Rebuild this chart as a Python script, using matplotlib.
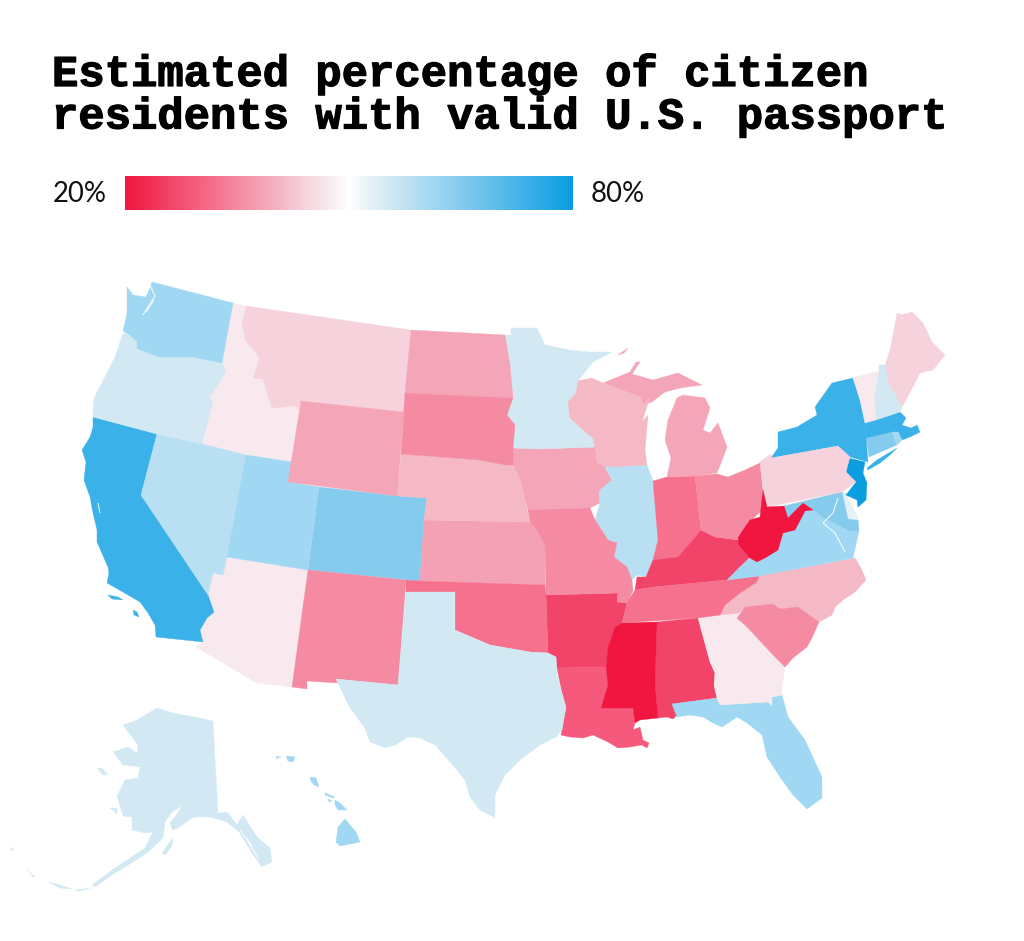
import numpy as np
import matplotlib
matplotlib.use("Agg")
import matplotlib.pyplot as plt
import matplotlib.patheffects as pe
from matplotlib.collections import PolyCollection, LineCollection
from matplotlib.colors import LinearSegmentedColormap, Normalize

# ---- chart content -------------------------------------------------------
TITLE_LINES = ["Estimated percentage of citizen", "residents with valid U.S. passport"]
SCALE_MIN, SCALE_MAX = 20, 80
SCALE_LABELS = ["20%", "80%"]
# colour ramp: (percentage, colour)
SCALE_PCTS = [20, 26, 29, 32, 35, 38.5, 41, 44, 47, 50, 53, 55.5, 58.5, 61.5, 65, 74, 80]
SCALE_COLORS = ["#F0163F", "#F24469", "#F55A7B", "#F5718D", "#F48BA2", "#F5A5B8", "#F5B8C5",
                "#F6D3DC", "#F7E9ED", "#FFFFFF", "#E5F1F7", "#D2E9F4", "#B9DFF2", "#A0D7F2",
                "#86CBED", "#3AB1E8", "#0A9DE0"]

# estimated share of citizen residents with a valid passport, per state
PASSPORT_PCT = {
    "AK": 55.5, "AL": 26, "AR": 26, "AZ": 47, "CA": 74, "CO": 65, "CT": 65, "DE": 53,
    "FL": 61.5, "GA": 47, "HI": 61.5, "IA": 38.5, "ID": 47, "IL": 58.5, "IN": 32, "KS": 38,
    "KY": 26, "LA": 29, "MA": 74, "MD": 65, "ME": 44, "MI": 38.5, "MN": 55.5, "MO": 35,
    "MS": 20, "MT": 44, "NC": 41, "ND": 38.5, "NE": 41, "NH": 55.5, "NJ": 80, "NM": 35,
    "NV": 58.5, "NY": 74, "OH": 35, "OK": 32, "OR": 55.5, "PA": 44, "RI": 61, "SC": 35,
    "SD": 35, "TN": 32, "TX": 55.5, "UT": 61.5, "VA": 61.5, "VT": 47, "WA": 61.5, "WI": 41,
    "WV": 20, "WY": 38.5,
}

# state outlines, as map geometry (rings per state)
OUTLINES = {
 "WA": [[(127,287),(133,295),(146,297),(150,288),(152,282),(156,283),(233,303),(222,363),(192,357),(170,357),(160,357),(148,353),(137,349),(137,342),(130,335),(123,331),(127,313)]],
 "OR": [[(123,333),(130,335),(137,343),(137,350),(148,353),(160,357),(192,357),(222,363),(226,371),(217,387),(209,397),(213,402),(202,444),(157,434),(93,417),(94,398),(105,377),(115,357)]],
 "CA": [[(93,417),(157,434),(141,495),(208,595),(214,612),(207,618),(200,630),(203,642),(156,637),(155,625),(148,613),(140,602),(128,595),(107,583),(109,573),(108,567),(97,542),(97,530),(93,513),(90,497),(84,480),(86,462),(82,450),(90,437),(93,427)],
        [(108,595),(118,597),(123,600),(112,599)],[(133,610),(137,612),(139,617),(134,615)]],
 "NV": [[(157,434),(202,444),(246,455),(227,557),(223,575),(213,573),(208,595),(141,495)]],
 "ID": [[(233,303),(246,306),(242,323),(245,340),(260,358),(253,378),(263,379),(268,397),(272,408),(295,406),(299,410),(292,462),(246,455),(202,444),(213,402),(209,397),(217,387),(226,371),(222,363)]],
 "MT": [[(246,306),(411,330),(404,412),(301,401),(299,410),(295,406),(272,408),(268,397),(263,379),(253,378),(260,358),(245,340),(242,323)]],
 "WY": [[(301,401),(404,412),(397,496),(288,482)]],
 "UT": [[(246,455),(292,462),(288,482),(319,487),(308,570),(227,557)]],
 "CO": [[(319,487),(397,496),(427,498),(424,520),(420,581),(308,570)]],
 "AZ": [[(227,557),(308,570),(292,687),(257,683),(196,647),(203,642),(200,630),(207,618),(214,612),(208,595),(213,573),(223,575)]],
 "NM": [[(308,570),(406,580),(398,685),(336,679),(338,683),(307,681),(307,689),(292,687)]],
 "TX": [[(406,592),(455,592),(455,630),(490,645),(530,652),(548,653),(556,657),(557,675),(562,693),(566,707),(562,730),(556,737),(540,745),(520,760),(505,775),(495,795),(495,818),(480,810),(470,797),(465,780),(450,762),(435,745),(420,738),(408,737),(395,745),(385,748),(370,742),(365,728),(350,708),(338,683),(336,679),(398,685)]],
 "OK": [[(406,580),(420,581),(545,585),(546,595),(548,653),(530,652),(490,645),(455,630),(455,592),(406,592)]],
 "KS": [[(424,520),(530,522),(537,530),(545,545),(545,585),(420,581)]],
 "NE": [[(401,454),(480,460),(505,465),(513,465),(520,480),(525,500),(530,522),(424,520),(427,498),(397,496)]],
 "SD": [[(405,393),(513,398),(507,415),(515,425),(513,448),(513,465),(505,465),(480,460),(401,454)]],
 "ND": [[(411,330),(505,335),(510,365),(513,398),(405,393)]],
 "MN": [[(505,335),(511,335),(511,328),(537,328),(545,345),(570,350),(590,352),(612,352),(593,362),(578,381),(576,393),(568,402),(570,418),(583,430),(593,438),(595,447),(540,449),(513,448),(515,425),(507,415),(513,398),(510,365)]],
 "IA": [[(513,448),(540,449),(595,447),(597,462),(605,467),(612,480),(599,491),(600,503),(590,508),(528,510),(525,500),(520,480),(513,465)]],
 "MO": [[(528,510),(590,508),(595,520),(608,540),(617,543),(614,557),(627,567),(632,580),(633,590),(628,603),(617,602),(618,593),(546,595),(545,545),(537,530),(530,522)]],
 "WI": [[(578,381),(592,378),(603,383),(640,397),(643,405),(650,397),(642,422),(648,415),(645,450),(647,465),(605,467),(597,462),(595,447),(593,438),(583,430),(570,418),(568,402),(576,393)]],
 "MI": [[(603,383),(630,372),(636,362),(640,362),(632,374),(653,380),(678,373),(702,385),(680,388),(665,392),(652,402),(643,405),(640,397)],
        [(683,395),(705,398),(710,408),(703,430),(710,433),(718,423),(727,447),(723,458),(717,473),(695,476),(667,477),(671,458),(665,440),(668,420),(677,398)],
        [(618,355),(628,348),(624,353)]],
 "IL": [[(605,467),(647,465),(653,481),(658,540),(653,560),(646,577),(637,575),(632,580),(627,567),(614,557),(617,543),(608,540),(595,520),(600,503),(599,491),(612,480)]],
 "IN": [[(653,481),(667,477),(695,476),(701,530),(693,540),(678,557),(653,560),(658,540)]],
 "OH": [[(695,476),(717,474),(728,477),(745,470),(760,463),(763,490),(762,510),(752,520),(743,530),(739,540),(715,537),(701,530)]],
 "KY": [[(635,590),(637,577),(646,577),(653,560),(678,557),(693,540),(701,530),(715,537),(738,540),(745,548),(750,557),(740,567),(727,580),(654,587)]],
 "TN": [[(627,603),(635,590),(654,587),(727,580),(759,576),(757,582),(740,593),(725,605),(720,615),(698,618),(622,623)]],
 "AR": [[(546,595),(618,593),(617,602),(627,603),(622,623),(615,627),(608,647),(606,667),(557,668),(556,657),(548,653)]],
 "LA": [[(557,668),(606,667),(608,685),(601,708),(633,708),(635,723),(633,730),(640,727),(643,740),(649,743),(647,748),(642,745),(630,747),(618,748),(608,742),(593,735),(583,738),(570,737),(561,735),(566,707),(562,693)]],
 "MS": [[(622,623),(657,622),(655,683),(658,718),(640,720),(635,723),(633,708),(601,708),(608,685),(606,667),(608,647),(615,627)]],
 "AL": [[(657,622),(698,618),(710,662),(715,673),(714,685),(717,698),(672,704),(677,715),(673,719),(667,717),(658,718),(655,683)]],
 "GA": [[(698,618),(720,615),(739,613),(737,618),(748,628),(775,657),(785,667),(782,687),(782,695),(772,697),(772,706),(768,702),(720,705),(717,698),(714,685),(715,673),(710,662)]],
 "FL": [[(672,704),(717,698),(720,705),(768,702),(772,706),(772,697),(782,695),(788,717),(805,740),(822,777),(822,798),(807,809),(793,795),(780,777),(767,757),(762,735),(747,723),(737,717),(722,727),(713,723),(703,717),(690,715),(677,717)]],
 "SC": [[(737,618),(745,607),(773,604),(780,609),(798,607),(819,622),(812,638),(807,647),(793,658),(785,667),(775,657),(748,628)]],
 "NC": [[(759,576),(855,558),(862,570),(866,580),(855,592),(843,600),(835,607),(832,615),(819,622),(798,607),(780,609),(773,604),(745,607),(739,613),(720,615),(725,605),(740,593),(757,582)]],
 "VA": [[(727,580),(740,567),(750,558),(757,562),(765,558),(778,548),(783,533),(795,530),(803,511),(813,510),(823,518),(838,525),(848,531),(859,531),(853,558),(759,576)]],
 "WV": [[(763,490),(767,507),(784,506),(788,518),(803,503),(813,510),(805,511),(795,530),(783,533),(778,550),(765,558),(757,562),(750,558),(739,545),(738,538),(743,530),(750,520),(760,517)]],
 "MD": [[(784,506),(842,492),(848,519),(858,520),(859,531),(848,531),(838,525),(823,518),(813,510),(803,503),(788,518)]],
 "DE": [[(842,492),(846,493),(858,518),(848,519)]],
 "PA": [[(760,462),(771,454),(771,458),(838,446),(850,457),(846,472),(856,482),(842,492),(767,507),(763,490)]],
 "NY": [[(771,458),(778,448),(778,432),(797,427),(817,415),(815,407),(832,383),(853,378),(860,400),(865,423),(866,438),(868,462),(850,457),(838,446)],
        [(867,468),(877,460),(897,448),(890,455),(880,463),(868,470)]],
 "NJ": [[(848,458),(865,462),(863,473),(867,483),(866,500),(858,507),(857,500),(846,495),(856,482),(846,472)]],
 "CT": [[(866,438),(892,432),(897,445),(869,457)]],
 "RI": [[(892,432),(898,432),(902,440),(897,445)]],
 "MA": [[(865,423),(900,412),(906,418),(902,425),(911,428),(917,425),(920,432),(910,437),(902,440),(898,432),(892,432),(866,438)]],
 "VT": [[(853,378),(879,371),(874,397),(876,420),(865,423),(860,400)]],
 "NH": [[(879,365),(885,365),(888,383),(902,407),(900,412),(876,420),(874,397),(879,371)]],
 "ME": [[(885,365),(890,350),(892,340),(897,313),(902,315),(912,312),(923,323),(932,342),(945,355),(933,370),(920,373),(913,387),(902,407),(888,383)]],
 "AK": [[(213,721),(218,813),(227,812),(237,825),(243,815),(257,837),(270,848),(272,862),(262,867),(252,853),(240,833),(227,822),(210,817),(197,817),(192,818),(178,828),(172,830),(170,823),(178,813),(182,806),(172,812),(165,822),(163,838),(147,853),(133,862),(115,873),(95,887),(92,885),(112,870),(130,858),(145,848),(153,832),(145,833),(132,830),(132,817),(123,816),(117,796),(125,780),(138,778),(140,767),(123,765),(113,752),(128,747),(137,753),(138,745),(123,725),(137,720),(157,708),(173,713),(200,718)],
        [(162,853),(173,838),(172,846),(165,855)],[(97,768),(102,768),(108,775),(103,775)],[(110,808),(117,808),(117,814)],
        [(10,847),(14,850),(12,851)],[(28,870),(35,877),(33,877)],[(48,882),(60,885),(72,889),(60,888)],[(75,890),(90,888),(80,891)]],
 "HI": [[(345,819),(356,832),(360,842),(340,846),(336,842),(338,827)],[(335,800),(340,803),(347,810),(338,810),(335,805)],
        [(325,793),(335,797),(333,798),(325,795)],[(328,799),(332,801),(329,802)],[(310,777),(316,778),(319,787),(314,785),(311,781)],
        [(286,756),(295,757),(293,762),(288,761)],[(276,757),(281,756),(277,759)]],
}

# inland water, drawn in the paper colour
WATERWAYS = [
    [(150,285),(155,296),(149,305),(143,315)], [(154,300),(146,312)],
    [(98,503),(100,513)],
    [(838,498),(833,513),(823,523),(835,533),(845,552)],
    [(246,838),(258,858)], [(240,830),(252,846)],
]

# ---- figure --------------------------------------------------------------
plt.rcParams["font.family"] = ["Lato", "DejaVu Sans"]
fig = plt.figure(figsize=(10.24, 9.41), dpi=100, facecolor="white")
ax = fig.add_axes([0, 0, 1, 1])

norm = Normalize(SCALE_MIN, SCALE_MAX)
cmap = LinearSegmentedColormap.from_list(
    "passport", [(norm(p), c) for p, c in zip(SCALE_PCTS, SCALE_COLORS)], N=512)

rings, ring_values = [], []
for state, value in PASSPORT_PCT.items():
    for ring in OUTLINES[state]:
        rings.append(ring)
        ring_values.append(value)
states = PolyCollection(rings, array=np.array(ring_values), cmap=cmap, norm=norm,
                        edgecolors="face", linewidths=0.25, antialiaseds=True, zorder=2)
ax.add_collection(states)
ax.add_collection(LineCollection(WATERWAYS, colors="white", linewidths=0.7, zorder=3))

# colour scale
ax.imshow(np.linspace(SCALE_MIN, SCALE_MAX, 512)[None, :], cmap=cmap, norm=norm,
          extent=(125, 573, 210, 176), aspect="auto", zorder=2, interpolation="bilinear")
ax.text(53, 194, SCALE_LABELS[0], fontsize=19.8, family="Lato",
        va="center", ha="left", color="#111111")
ax.text(591, 194, SCALE_LABELS[1], fontsize=19.8, family="Lato",
        va="center", ha="left", color="#111111")

# title
for text, baseline in zip(TITLE_LINES, (86, 128.5)):
    ax.text(52, baseline, text, fontsize=31.6, family="Liberation Mono", weight="bold",
            va="baseline", ha="left", color="black",
            path_effects=[pe.withStroke(linewidth=0.9, foreground="black")])

ax.set_xlim(0, 1024)
ax.set_ylim(941, 0)
ax.axis("off")
fig.savefig("out.png", dpi=100, facecolor="white")
